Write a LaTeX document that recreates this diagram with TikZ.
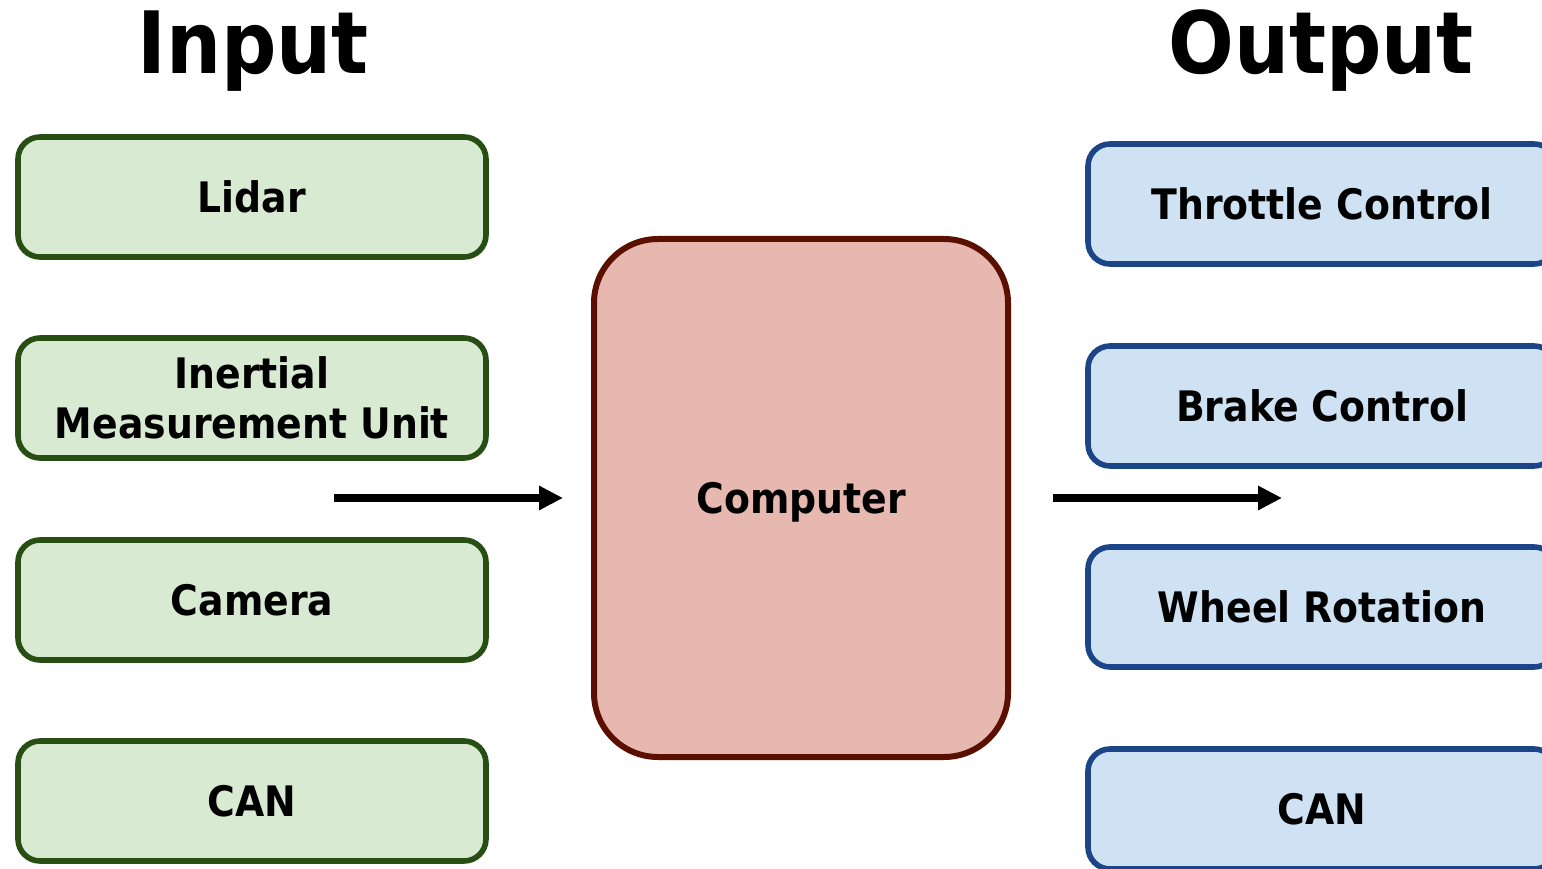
\documentclass[tikz,border=0pt]{standalone}
\usepackage{fontspec}
\setmainfont{DejaVu Sans Condensed}
\usepackage{xcolor}
\usetikzlibrary{arrows.meta, positioning}
\definecolor{ingreen}{HTML}{D9EAD3}
\definecolor{inborder}{HTML}{274E13}
\definecolor{outblue}{HTML}{CFE2F3}
\definecolor{outborder}{HTML}{1C4587}
\definecolor{cpured}{HTML}{E6B8AF}
\definecolor{cpuborder}{HTML}{5B0F00}
\begin{document}
\begin{tikzpicture}[x=0.5pt, y=0.5pt,
    inbox/.style={draw=inborder, fill=ingreen, line width=2.8pt, rounded corners=11pt,
        minimum width=234pt, minimum height=60pt, align=center, font=\fontsize{21}{25}\selectfont\bfseries},
    outbox/.style={draw=outborder, fill=outblue, line width=2.8pt, rounded corners=11pt,
        minimum width=234pt, minimum height=60pt, align=center, font=\fontsize{21}{25}\selectfont\bfseries},
    title/.style={anchor=base, font=\fontsize{43}{50}\selectfont\bfseries},
    flow/.style={line width=4pt, -{Triangle[length=12pt, width=11.5pt]}}]
                \useasboundingbox (0, 0) rectangle (1542, 868);

                % Titles
                \node[title] (intitle) at (253, 794) {Input};
                \node[title] (outtitle) at (1321, 794) {Output};

                % Input devices
                \node[inbox] (lidar) at (252, 671) {Lidar};
                \node[inbox] (imu) at (252, 470) {Inertial\\Measurement Unit};
                \node[inbox] (camera) at (252, 268) {Camera};
                \node[inbox] (canin) at (252, 67) {CAN};

                % Computer
                \node[draw=cpuborder, fill=cpured, line width=3pt, rounded corners=32pt,
                    minimum width=207pt, minimum height=259pt, text depth=0pt,
                    font=\fontsize{21}{25}\selectfont\bfseries] (computer) at (801, 370) {Computer};

                % Output devices
                \node[outbox] (throttle) at (1322, 664) {Throttle Control};
                \node[outbox] (brake) at (1322, 462) {Brake Control};
                \node[outbox] (wheel) at (1322, 261) {Wheel Rotation};
                \node[outbox] (canout) at (1322, 59) {CAN};

                % Arrows
                \coordinate (infrom) at (334, 370);
                \coordinate (into) at (563, 370);
                \coordinate (outfrom) at (1053, 370);
                \coordinate (outto) at (1282, 370);
                \draw[flow] (infrom) -- (into);
                \draw[flow] (outfrom) -- (outto);
            \end{tikzpicture}
\end{document}
